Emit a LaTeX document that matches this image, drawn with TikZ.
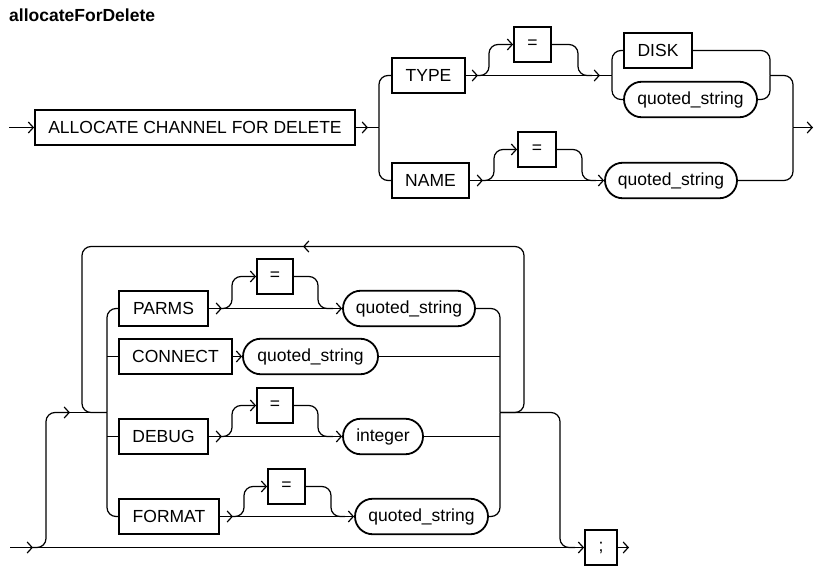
\documentclass[tikz,border=0pt]{standalone}
\usepackage{fontspec}
\setmainfont{Liberation Sans}
\usetikzlibrary{arrows.meta,shapes.misc}
\begin{document}
\begin{tikzpicture}[x=1pt,y=-1pt,
  >={Straight Barb[length=5pt,width=11pt,line width=1.2pt]},
  conn/.style={line width=1.2pt},
  rc/.style={conn,rounded corners=9pt},
  kw/.style={draw,line width=1.8pt,rectangle,minimum height=35.5pt,inner sep=0pt,font=\fontsize{17.5}{19}\selectfont},
  var/.style={draw,line width=1.8pt,rounded rectangle,minimum height=35.5pt,inner sep=0pt,font=\fontsize{17.5}{19}\selectfont},
  ttl/.style={font=\fontsize{17.5}{19}\selectfont\bfseries,inner sep=0pt,anchor=base west}]
\useasboundingbox (0,0) rectangle (816,567);
\node[ttl] (title) at (9,22) {allocateForDelete};

% ---------- top diagram ----------
\node[kw,minimum width=320pt] (alloc) at (195,127.5) {ALLOCATE CHANNEL FOR DELETE};
\node[kw,minimum width=73pt] (type) at (428.5,75.5) {TYPE};
\node[kw,minimum width=37pt] (eq1) at (532.5,44.5) {=};
\node[kw,minimum width=68pt] (disk) at (658,50.5) {DISK};
\node[var,minimum width=133pt] (qs1) at (690.5,99.5) {quoted\_string};
\node[kw,minimum width=77pt] (name) at (430.5,180.5) {NAME};
\node[kw,minimum width=38pt] (eq2) at (537,149.5) {=};
\node[var,minimum width=132pt] (qs2) at (671,180.5) {quoted\_string};

\coordinate (s1) at (9,127.5);
\coordinate (a1) at (368,127.5);
\coordinate (b1) at (379,127.5);
\coordinate (tA) at (478,75.5);
\coordinate (tB) at (600,75.5);
\coordinate (tC) at (612,75.5);
\coordinate (tD) at (770,75.5);
\coordinate (nA) at (483,180.5);
\coordinate (e1) at (793,127.5);
\coordinate (e2) at (813,127.5);

\draw[conn,->] (s1) -- (alloc.west);
\draw[conn,->] (alloc.east) -- (a1);
\draw[conn] (a1) -- (b1);
\draw[rc] (b1) |- (type.west);
\draw[rc] (b1) |- (name.west);
% TYPE row
\draw[conn,->] (type.east) -- (tA);
\draw[conn,->] (tA) -- (tB);
\draw[rc,->] (tA) -- (489,75.5) -- (489,44.5) -- (eq1.west);
\draw[rc] (eq1.east) -- (578,44.5) -- (578,75.5) -- (592,75.5);
\draw[conn] (tB) -- (tC);
\draw[rc] (tC) |- (disk.west);
\draw[rc] (tC) |- (qs1.west);
\draw[rc] (disk.east) -| (tD);
\draw[rc] (qs1.east) -| (tD);
\draw[rc] (tD) -| (e1);
% NAME row
\draw[conn,->] (name.east) -- (nA);
\draw[conn,->] (nA) -- (qs2.west);
\draw[rc,->] (nA) -- (494,180.5) -- (494,149.5) -- (eq2.west);
\draw[rc] (eq2.east) -- (582,149.5) -- (582,180.5) -- (596,180.5);
\draw[rc] (qs2.east) -| (e1);
\draw[conn,->] (e1) -- (e2);

% ---------- bottom diagram ----------
\node[kw,minimum width=89pt] (parms) at (163.5,308.5) {PARMS};
\node[kw,minimum width=36pt] (eq3) at (275,276.5) {=};
\node[var,minimum width=132pt] (qs3) at (409,308.5) {quoted\_string};
\node[kw,minimum width=113pt] (connect) at (175.5,356.5) {CONNECT};
\node[var,minimum width=135pt] (qs4) at (310.5,356.5) {quoted\_string};
\node[kw,minimum width=89pt] (debug) at (163.5,436.5) {DEBUG};
\node[kw,minimum width=36pt] (eq4) at (275,405.5) {=};
\node[var,minimum width=80pt] (int) at (383,436.5) {integer};
\node[kw,minimum width=100pt] (format) at (169,516.5) {FORMAT};
\node[kw,minimum width=37pt] (eq5) at (286.5,486.5) {=};
\node[var,minimum width=133pt] (qs5) at (421.5,516.5) {quoted\_string};
\node[kw,minimum width=32pt] (semi) at (601,547.5) {;};

\coordinate (s2) at (10,547.5);
\coordinate (c1) at (33,547.5);
\coordinate (m1) at (70,412.5);
\coordinate (br) at (107,412.5);
\coordinate (rj) at (500,412.5);
\coordinate (lA) at (303,246.5);
\coordinate (pA) at (222,308.5);
\coordinate (dA) at (222,436.5);
\coordinate (fA) at (233,516.5);
\coordinate (x1) at (575,547.5);
\coordinate (x2) at (629,547.5);

\draw[conn,->] (s2) -- (c1);
\draw[conn,->] (c1) -- (semi.west);
\draw[rc,->] (c1) -| (46,480) |- (m1);
\draw[conn] (m1) -- (br);
% left branch
\draw[rc] (br) |- (parms.west);
\draw[rc] (br) |- (format.west);
\draw[conn] (br |- connect.west) -- (connect.west);
\draw[conn] (br |- debug.west) -- (debug.west);
% PARMS row
\draw[conn,->] (parms.east) -- (pA);
\draw[conn,->] (pA) -- (qs3.west);
\draw[rc,->] (pA) -- (232,308.5) -- (232,276.5) -- (eq3.west);
\draw[rc] (eq3.east) -- (318,276.5) -- (318,308.5) -- (333,308.5);
% CONNECT row
\draw[conn,->] (connect.east) -- (qs4.west);
% DEBUG row
\draw[conn,->] (debug.east) -- (dA);
\draw[conn,->] (dA) -- (int.west);
\draw[rc,->] (dA) -- (232,436.5) -- (232,405.5) -- (eq4.west);
\draw[rc] (eq4.east) -- (318,405.5) -- (318,436.5) -- (333,436.5);
% FORMAT row
\draw[conn,->] (format.east) -- (fA);
\draw[conn,->] (fA) -- (qs5.west);
\draw[rc,->] (fA) -- (244,516.5) -- (244,486.5) -- (eq5.west);
\draw[rc] (eq5.east) -- (331,486.5) -- (331,516.5) -- (345,516.5);
% right join
\draw[rc] (qs3.east) -| (rj);
\draw[rc] (qs5.east) -| (rj);
\draw[conn] (qs4.east) -- (rj |- qs4.east);
\draw[conn] (int.east) -- (rj |- int.east);
% repeat loop
\draw[rc,->] (rj) -| (524,330) |- (lA);
\draw[rc] (lA) -| (82,330) |- (br);
% exit
\draw[rc] (rj) -| (560,480) |- (x1);
\draw[conn,->] (semi.east) -- (x2);
\end{tikzpicture}
\end{document}
